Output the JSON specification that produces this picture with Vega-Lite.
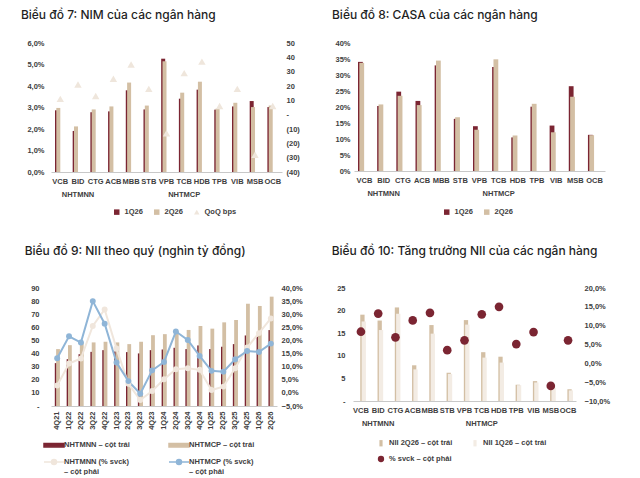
{
  "$schema": "https://vega.github.io/schema/vega-lite/v6.json",
  "background": "white",
  "padding": {"left": 20, "top": 9, "right": 4, "bottom": 0},
  "datasets": {
    "nim": [
      {"bank": "VCB", "quarter": "1Q26", "value": 2.87}, {"bank": "VCB", "quarter": "2Q26", "value": 2.98},
      {"bank": "BID", "quarter": "1Q26", "value": 1.91}, {"bank": "BID", "quarter": "2Q26", "value": 2.12},
      {"bank": "CTG", "quarter": "1Q26", "value": 2.78}, {"bank": "CTG", "quarter": "2Q26", "value": 2.91},
      {"bank": "ACB", "quarter": "1Q26", "value": 2.82}, {"bank": "ACB", "quarter": "2Q26", "value": 3.05},
      {"bank": "MBB", "quarter": "1Q26", "value": 3.80}, {"bank": "MBB", "quarter": "2Q26", "value": 4.16},
      {"bank": "STB", "quarter": "1Q26", "value": 2.91}, {"bank": "STB", "quarter": "2Q26", "value": 3.09},
      {"bank": "VPB", "quarter": "1Q26", "value": 5.27}, {"bank": "VPB", "quarter": "2Q26", "value": 5.15},
      {"bank": "TCB", "quarter": "1Q26", "value": 3.41}, {"bank": "TCB", "quarter": "2Q26", "value": 3.69},
      {"bank": "HDB", "quarter": "1Q26", "value": 3.83}, {"bank": "HDB", "quarter": "2Q26", "value": 4.20},
      {"bank": "TPB", "quarter": "1Q26", "value": 2.90}, {"bank": "TPB", "quarter": "2Q26", "value": 2.95},
      {"bank": "VIB", "quarter": "1Q26", "value": 3.05}, {"bank": "VIB", "quarter": "2Q26", "value": 3.22},
      {"bank": "MSB", "quarter": "1Q26", "value": 3.30}, {"bank": "MSB", "quarter": "2Q26", "value": 3.02},
      {"bank": "OCB", "quarter": "1Q26", "value": 3.02}, {"bank": "OCB", "quarter": "2Q26", "value": 3.09}
    ],
    "nimqoq": [
      {"bank": "VCB", "bps": 11}, {"bank": "BID", "bps": 21}, {"bank": "CTG", "bps": 13},
      {"bank": "ACB", "bps": 25}, {"bank": "MBB", "bps": 35}, {"bank": "STB", "bps": 18},
      {"bank": "VPB", "bps": -13}, {"bank": "TCB", "bps": 29}, {"bank": "HDB", "bps": 37},
      {"bank": "TPB", "bps": 6}, {"bank": "VIB", "bps": 18}, {"bank": "MSB", "bps": -28},
      {"bank": "OCB", "bps": 6}
    ],
    "casa": [
      {"bank": "VCB", "quarter": "1Q26", "value": 34.1}, {"bank": "VCB", "quarter": "2Q26", "value": 33.8},
      {"bank": "BID", "quarter": "1Q26", "value": 20.3}, {"bank": "BID", "quarter": "2Q26", "value": 20.8},
      {"bank": "CTG", "quarter": "1Q26", "value": 24.8}, {"bank": "CTG", "quarter": "2Q26", "value": 23.5},
      {"bank": "ACB", "quarter": "1Q26", "value": 21.9}, {"bank": "ACB", "quarter": "2Q26", "value": 20.6},
      {"bank": "MBB", "quarter": "1Q26", "value": 33.0}, {"bank": "MBB", "quarter": "2Q26", "value": 34.5},
      {"bank": "STB", "quarter": "1Q26", "value": 16.3}, {"bank": "STB", "quarter": "2Q26", "value": 16.8},
      {"bank": "VPB", "quarter": "1Q26", "value": 14.0}, {"bank": "VPB", "quarter": "2Q26", "value": 12.9},
      {"bank": "TCB", "quarter": "1Q26", "value": 32.5}, {"bank": "TCB", "quarter": "2Q26", "value": 34.9},
      {"bank": "HDB", "quarter": "1Q26", "value": 10.5}, {"bank": "HDB", "quarter": "2Q26", "value": 11.1},
      {"bank": "TPB", "quarter": "1Q26", "value": 20.1}, {"bank": "TPB", "quarter": "2Q26", "value": 21.0},
      {"bank": "VIB", "quarter": "1Q26", "value": 14.2}, {"bank": "VIB", "quarter": "2Q26", "value": 12.1},
      {"bank": "MSB", "quarter": "1Q26", "value": 26.5}, {"bank": "MSB", "quarter": "2Q26", "value": 23.2},
      {"bank": "OCB", "quarter": "1Q26", "value": 11.3}, {"bank": "OCB", "quarter": "2Q26", "value": 11.2}
    ],
    "nii": [
      {"quarter": "4Q21", "series": "NHTMNN – cột trái", "value": 32.7}, {"quarter": "4Q21", "series": "NHTMCP – cột trái", "value": 43.4},
      {"quarter": "1Q22", "series": "NHTMNN – cột trái", "value": 35.7}, {"quarter": "1Q22", "series": "NHTMCP – cột trái", "value": 46.4},
      {"quarter": "2Q22", "series": "NHTMNN – cột trái", "value": 39.5}, {"quarter": "2Q22", "series": "NHTMCP – cột trái", "value": 48.5},
      {"quarter": "3Q22", "series": "NHTMNN – cột trái", "value": 41.3}, {"quarter": "3Q22", "series": "NHTMCP – cột trái", "value": 48.5},
      {"quarter": "4Q22", "series": "NHTMNN – cột trái", "value": 42.6}, {"quarter": "4Q22", "series": "NHTMCP – cột trái", "value": 49.0},
      {"quarter": "1Q23", "series": "NHTMNN – cột trái", "value": 41.6}, {"quarter": "1Q23", "series": "NHTMCP – cột trái", "value": 48.5},
      {"quarter": "2Q23", "series": "NHTMNN – cột trái", "value": 41.1}, {"quarter": "2Q23", "series": "NHTMCP – cột trái", "value": 47.2},
      {"quarter": "3Q23", "series": "NHTMNN – cột trái", "value": 40.1}, {"quarter": "3Q23", "series": "NHTMCP – cột trái", "value": 49.0},
      {"quarter": "4Q23", "series": "NHTMNN – cột trái", "value": 42.6}, {"quarter": "4Q23", "series": "NHTMCP – cột trái", "value": 54.0},
      {"quarter": "1Q24", "series": "NHTMNN – cột trái", "value": 43.1}, {"quarter": "1Q24", "series": "NHTMCP – cột trái", "value": 54.8},
      {"quarter": "2Q24", "series": "NHTMNN – cột trái", "value": 44.4}, {"quarter": "2Q24", "series": "NHTMCP – cột trái", "value": 57.0},
      {"quarter": "3Q24", "series": "NHTMNN – cột trái", "value": 43.4}, {"quarter": "3Q24", "series": "NHTMCP – cột trái", "value": 58.0},
      {"quarter": "4Q24", "series": "NHTMNN – cột trái", "value": 46.2}, {"quarter": "4Q24", "series": "NHTMCP – cột trái", "value": 61.0},
      {"quarter": "1Q25", "series": "NHTMNN – cột trái", "value": 43.4}, {"quarter": "1Q25", "series": "NHTMCP – cột trái", "value": 59.0},
      {"quarter": "2Q25", "series": "NHTMNN – cột trái", "value": 45.2}, {"quarter": "2Q25", "series": "NHTMCP – cột trái", "value": 63.8},
      {"quarter": "3Q25", "series": "NHTMNN – cột trái", "value": 47.2}, {"quarter": "3Q25", "series": "NHTMCP – cột trái", "value": 65.6},
      {"quarter": "4Q25", "series": "NHTMNN – cột trái", "value": 53.8}, {"quarter": "4Q25", "series": "NHTMCP – cột trái", "value": 78.0},
      {"quarter": "1Q26", "series": "NHTMNN – cột trái", "value": 52.8}, {"quarter": "1Q26", "series": "NHTMCP – cột trái", "value": 76.3},
      {"quarter": "2Q26", "series": "NHTMNN – cột trái", "value": 57.9}, {"quarter": "2Q26", "series": "NHTMCP – cột trái", "value": 83.4}
    ],
    "yoy": [
      {"quarter": "4Q21", "series": "NHTMNN (% svck) – cột phải", "value": 2.8}, {"quarter": "4Q21", "series": "NHTMCP (% svck) – cột phải", "value": 13.2},
      {"quarter": "1Q22", "series": "NHTMNN (% svck) – cột phải", "value": 11.2}, {"quarter": "1Q22", "series": "NHTMCP (% svck) – cột phải", "value": 21.6},
      {"quarter": "2Q22", "series": "NHTMNN (% svck) – cột phải", "value": 13.1}, {"quarter": "2Q22", "series": "NHTMCP (% svck) – cột phải", "value": 19.2},
      {"quarter": "3Q22", "series": "NHTMNN (% svck) – cột phải", "value": 25.5}, {"quarter": "3Q22", "series": "NHTMCP (% svck) – cột phải", "value": 35.0},
      {"quarter": "4Q22", "series": "NHTMNN (% svck) – cột phải", "value": 31.8}, {"quarter": "4Q22", "series": "NHTMCP (% svck) – cột phải", "value": 26.4},
      {"quarter": "1Q23", "series": "NHTMNN (% svck) – cột phải", "value": 16.9}, {"quarter": "1Q23", "series": "NHTMCP (% svck) – cột phải", "value": 11.6},
      {"quarter": "2Q23", "series": "NHTMNN (% svck) – cột phải", "value": 3.5}, {"quarter": "2Q23", "series": "NHTMCP (% svck) – cột phải", "value": 4.5},
      {"quarter": "3Q23", "series": "NHTMNN (% svck) – cột phải", "value": -2.7}, {"quarter": "3Q23", "series": "NHTMCP (% svck) – cột phải", "value": -0.3},
      {"quarter": "4Q23", "series": "NHTMNN (% svck) – cột phải", "value": 0.7}, {"quarter": "4Q23", "series": "NHTMCP (% svck) – cột phải", "value": 8.6},
      {"quarter": "1Q24", "series": "NHTMNN (% svck) – cột phải", "value": 5.2}, {"quarter": "1Q24", "series": "NHTMCP (% svck) – cột phải", "value": 11.8},
      {"quarter": "2Q24", "series": "NHTMNN (% svck) – cột phải", "value": 9.0}, {"quarter": "2Q24", "series": "NHTMCP (% svck) – cột phải", "value": 23.4},
      {"quarter": "3Q24", "series": "NHTMNN (% svck) – cột phải", "value": 9.4}, {"quarter": "3Q24", "series": "NHTMCP (% svck) – cột phải", "value": 20.2},
      {"quarter": "4Q24", "series": "NHTMNN (% svck) – cột phải", "value": 8.8}, {"quarter": "4Q24", "series": "NHTMCP (% svck) – cột phải", "value": 14.1},
      {"quarter": "1Q25", "series": "NHTMNN (% svck) – cột phải", "value": 1.1}, {"quarter": "1Q25", "series": "NHTMCP (% svck) – cột phải", "value": 8.4},
      {"quarter": "2Q25", "series": "NHTMNN (% svck) – cột phải", "value": 2.4}, {"quarter": "2Q25", "series": "NHTMCP (% svck) – cột phải", "value": 8.1},
      {"quarter": "3Q25", "series": "NHTMNN (% svck) – cột phải", "value": 9.4}, {"quarter": "3Q25", "series": "NHTMCP (% svck) – cột phải", "value": 12.8},
      {"quarter": "4Q25", "series": "NHTMNN (% svck) – cột phải", "value": 17.3}, {"quarter": "4Q25", "series": "NHTMCP (% svck) – cột phải", "value": 16.0},
      {"quarter": "1Q26", "series": "NHTMNN (% svck) – cột phải", "value": 22.8}, {"quarter": "1Q26", "series": "NHTMCP (% svck) – cột phải", "value": 15.6},
      {"quarter": "2Q26", "series": "NHTMNN (% svck) – cột phải", "value": 28.4}, {"quarter": "2Q26", "series": "NHTMCP (% svck) – cột phải", "value": 18.8}
    ],
    "niibank": [
      {"bank": "VCB", "series": "NII 2Q26 – cột trái", "value": 19.1}, {"bank": "VCB", "series": "NII 1Q26 – cột trái", "value": 17.6},
      {"bank": "BID", "series": "NII 2Q26 – cột trái", "value": 17.8}, {"bank": "BID", "series": "NII 1Q26 – cột trái", "value": 15.7},
      {"bank": "CTG", "series": "NII 2Q26 – cột trái", "value": 20.7}, {"bank": "CTG", "series": "NII 1Q26 – cột trái", "value": 19.3},
      {"bank": "ACB", "series": "NII 2Q26 – cột trái", "value": 7.9}, {"bank": "ACB", "series": "NII 1Q26 – cột trái", "value": 7.0},
      {"bank": "MBB", "series": "NII 2Q26 – cột trái", "value": 16.8}, {"bank": "MBB", "series": "NII 1Q26 – cột trái", "value": 14.9},
      {"bank": "STB", "series": "NII 2Q26 – cột trái", "value": 6.25}, {"bank": "STB", "series": "NII 1Q26 – cột trái", "value": 6.0},
      {"bank": "VPB", "series": "NII 2Q26 – cột trái", "value": 17.9}, {"bank": "VPB", "series": "NII 1Q26 – cột trái", "value": 16.9},
      {"bank": "TCB", "series": "NII 2Q26 – cột trái", "value": 10.8}, {"bank": "TCB", "series": "NII 1Q26 – cột trái", "value": 9.6},
      {"bank": "HDB", "series": "NII 2Q26 – cột trái", "value": 9.8}, {"bank": "HDB", "series": "NII 1Q26 – cột trái", "value": 8.5},
      {"bank": "TPB", "series": "NII 2Q26 – cột trái", "value": 3.6}, {"bank": "TPB", "series": "NII 1Q26 – cột trái", "value": 3.5},
      {"bank": "VIB", "series": "NII 2Q26 – cột trái", "value": 4.4}, {"bank": "VIB", "series": "NII 1Q26 – cột trái", "value": 4.1},
      {"bank": "MSB", "series": "NII 2Q26 – cột trái", "value": 3.1}, {"bank": "MSB", "series": "NII 1Q26 – cột trái", "value": 2.9},
      {"bank": "OCB", "series": "NII 2Q26 – cột trái", "value": 2.6}, {"bank": "OCB", "series": "NII 1Q26 – cột trái", "value": 2.35}
    ],
    "niiyoy": [
      {"bank": "VCB", "series": "% svck – cột phải", "value": 8.4}, {"bank": "BID", "series": "% svck – cột phải", "value": 13.2},
      {"bank": "CTG", "series": "% svck – cột phải", "value": 6.9}, {"bank": "ACB", "series": "% svck – cột phải", "value": 11.4},
      {"bank": "MBB", "series": "% svck – cột phải", "value": 13.4}, {"bank": "STB", "series": "% svck – cột phải", "value": 3.5},
      {"bank": "VPB", "series": "% svck – cột phải", "value": 6.1}, {"bank": "TCB", "series": "% svck – cột phải", "value": 13.0},
      {"bank": "HDB", "series": "% svck – cột phải", "value": 15.0}, {"bank": "TPB", "series": "% svck – cột phải", "value": 5.1},
      {"bank": "VIB", "series": "% svck – cột phải", "value": 8.3}, {"bank": "MSB", "series": "% svck – cột phải", "value": -6.0},
      {"bank": "OCB", "series": "% svck – cột phải", "value": 6.1}
    ]
  },
  "vconcat": [
    {
      "hconcat": [
        {
          "title": {"text": "Biểu đồ 7: NIM của các ngân hàng", "offset": 17, "dx": -6},
          "width": 231,
          "height": 129,
          "layer": [
            {
              "data": {"name": "nim"},
              "mark": {"type": "bar", "width": 4},
              "encoding": {
                "x": {"field": "bank", "type": "nominal", "scale": {"domain": ["VCB","BID","CTG","ACB","MBB","STB","VPB","TCB","HDB","TPB","VIB","MSB","OCB"], "paddingInner": 0.55, "paddingOuter": 0.3},
                  "axis": {"title": null, "labelAngle": 0, "labelOverlap": false, "labelLineHeight": 13,
                    "labelExpr": "datum.value == 'BID' ? ['BID', 'NHTMNN'] : datum.value == 'TCB' ? ['TCB', '        NHTMCP'] : datum.value"}},
                "xOffset": {"field": "quarter", "type": "nominal", "scale": {"domain": ["1Q26", "2Q26"], "paddingInner": 0, "paddingOuter": 0}},
                "y": {"field": "value", "type": "quantitative", "scale": {"domain": [0, 6], "nice": false},
                  "axis": {"title": null, "labelPadding": 7, "values": [0,1,2,3,4,5,6], "labelExpr": "replace(format(datum.value, '.1f'), '.', ',') + '%'"}},
                "color": {"field": "quarter", "type": "nominal",
                  "scale": {"domain": ["1Q26", "2Q26", "QoQ bps"], "range": ["#7b2532", "#d3bfa4", "#efe6dc"]},
                  "legend": {"title": null, "orient": "none", "legendX": 62, "legendY": 165, "direction": "horizontal", "symbolSize": 30,
                    "encode": {"symbols": {"update": {"shape": {"signal": "datum.value == 'QoQ bps' ? 'triangle-up' : 'square'"}}}}}}
              }
            },
            {
              "data": {"name": "nimqoq"},
              "mark": {"type": "point", "shape": "triangle-up", "filled": true, "size": 55, "opacity": 1},
              "encoding": {
                "x": {"field": "bank", "type": "nominal"},
                "y": {"field": "bps", "type": "quantitative", "scale": {"domain": [-40, 50], "nice": false},
                  "axis": {"title": null, "orient": "right", "values": [-40,-30,-20,-10,0,10,20,30,40,50],
                    "labelExpr": "datum.value == 0 ? '-' : datum.value < 0 ? '(' + abs(datum.value) + ')' : datum.label"}},
                "color": {"datum": "QoQ bps"}
              }
            }
          ],
          "resolve": {"scale": {"y": "independent"}}
        },
        {
          "title": {"text": "Biểu đồ 8: CASA của các ngân hàng", "offset": 17, "dx": -3},
          "width": 251,
          "height": 128,
          "data": {"name": "casa"},
          "mark": {"type": "bar", "width": 4.8},
          "encoding": {
            "x": {"field": "bank", "type": "nominal", "scale": {"domain": ["VCB","BID","CTG","ACB","MBB","STB","VPB","TCB","HDB","TPB","VIB","MSB","OCB"], "paddingInner": 0.5, "paddingOuter": 0.3},
              "axis": {"title": null, "labelAngle": 0, "labelOverlap": false, "labelLineHeight": 13,
                "labelExpr": "datum.value == 'BID' ? ['BID', 'NHTMNN'] : datum.value == 'TCB' ? ['TCB', '        NHTMCP'] : datum.value"}},
            "xOffset": {"field": "quarter", "type": "nominal", "scale": {"domain": ["1Q26", "2Q26"], "paddingInner": 0, "paddingOuter": 0}},
            "y": {"field": "value", "type": "quantitative", "scale": {"domain": [0, 40], "nice": false},
              "axis": {"title": null, "values": [0,5,10,15,20,25,30,35,40], "labelExpr": "datum.value + '%'"}},
            "color": {"field": "quarter", "type": "nominal",
              "scale": {"domain": ["1Q26", "2Q26"], "range": ["#7b2532", "#d3bfa4"]},
              "legend": {"title": null, "orient": "none", "legendX": 89, "legendY": 165, "direction": "horizontal", "symbolType": "square", "symbolSize": 30}}
          }
        }
      ],
      "spacing": 31,
      "resolve": {"scale": {"color": "independent"}, "legend": {"color": "independent"}}
    },
    {
      "hconcat": [
        {
          "title": {"text": "Biểu đồ 9: NII theo quý (nghìn tỷ đồng)", "offset": 26, "dx": -6},
          "width": 226,
          "height": 118,
          "layer": [
            {
              "data": {"name": "nii"},
              "mark": {"type": "bar", "width": 3.8},
              "encoding": {
                "x": {"field": "quarter", "type": "nominal",
                  "scale": {"domain": ["4Q21","1Q22","2Q22","3Q22","4Q22","1Q23","2Q23","3Q23","4Q23","1Q24","2Q24","3Q24","4Q24","1Q25","2Q25","3Q25","4Q25","1Q26","2Q26"], "paddingInner": 0.36, "paddingOuter": 0.2},
                  "axis": {"title": null, "labelAngle": 270, "labelOverlap": false}},
                "xOffset": {"field": "series", "type": "nominal", "scale": {"domain": ["NHTMNN – cột trái", "NHTMCP – cột trái"], "paddingInner": 0, "paddingOuter": 0}},
                "y": {"field": "value", "type": "quantitative", "scale": {"domain": [0, 90], "nice": false},
                  "axis": {"title": null, "labelPadding": 12, "values": [0,10,20,30,40,50,60,70,80,90], "labelExpr": "datum.value == 0 ? '-' : datum.label"}},
                "color": {"field": "series", "type": "nominal",
                  "scale": {"domain": ["NHTMNN – cột trái", "NHTMCP – cột trái", "NHTMNN (% svck) – cột phải", "NHTMCP (% svck) – cột phải"],
                    "range": ["#7b2532", "#d3bfa4", "#f0e6dc", "#8fb5d7"]},
                  "legend": {"title": null, "orient": "none", "legendX": -3, "legendY": 151, "direction": "horizontal", "columns": 2, "columnPadding": 36, "rowPadding": 6, "symbolSize": 100,
                    "symbolStrokeWidth": 1.5, "labelLineHeight": 11,
                    "labelExpr": "indexof(datum.label, 'svck') > 0 ? [slice(datum.label, 0, indexof(datum.label, ' –')), slice(datum.label, indexof(datum.label, '–'))] : datum.label",
                    "encode": {"symbols": {"update": {"shape": {"signal": "indexof(datum.value, 'svck') > 0 ? 'M-2,0H2M0.5,0A0.5,0.5,0,1,1,-0.5,0A0.5,0.5,0,1,1,0.5,0Z' : 'M-2,-0.35H2V0.35H-2Z'"}}}}}}
              }
            },
            {
              "data": {"name": "yoy"},
              "mark": {"type": "line", "strokeWidth": 2, "point": {"filled": true, "size": 35}},
              "encoding": {
                "x": {"field": "quarter", "type": "nominal"},
                "y": {"field": "value", "type": "quantitative", "scale": {"domain": [-5, 40], "nice": false},
                  "axis": {"title": null, "orient": "right", "values": [-5,0,5,10,15,20,25,30,35,40],
                    "labelExpr": "replace(format(datum.value, '.1f'), '.', ',') + '%'"}},
                "color": {"field": "series", "type": "nominal"}
              }
            }
          ],
          "resolve": {"scale": {"y": "independent"}}
        },
        {
          "title": {"text": "Biểu đồ 10: Tăng trưởng NII của các ngân hàng", "offset": 26, "dx": -5},
          "width": 223,
          "height": 113,
          "layer": [
            {
              "data": {"name": "niibank"},
              "mark": {"type": "bar", "width": 4.3},
              "encoding": {
                "x": {"field": "bank", "type": "nominal", "scale": {"domain": ["VCB","BID","CTG","ACB","MBB","STB","VPB","TCB","HDB","TPB","VIB","MSB","OCB"], "paddingInner": 0.48, "paddingOuter": 0.2},
                  "axis": {"title": null, "labelAngle": 0, "labelOverlap": false, "labelLineHeight": 13,
                    "labelExpr": "datum.value == 'BID' ? ['BID', 'NHTMNN'] : datum.value == 'TCB' ? ['TCB', '        NHTMCP'] : datum.value"}},
                "xOffset": {"field": "series", "type": "nominal", "scale": {"domain": ["NII 2Q26 – cột trái", "NII 1Q26 – cột trái"], "paddingInner": 0, "paddingOuter": 0}},
                "y": {"field": "value", "type": "quantitative", "scale": {"domain": [0, 25], "nice": false},
                  "axis": {"title": null, "labelPadding": 8, "values": [0,5,10,15,20,25], "labelExpr": "datum.value == 0 ? '-' : datum.label"}},
                "color": {"field": "series", "type": "nominal",
                  "scale": {"domain": ["NII 2Q26 – cột trái", "NII 1Q26 – cột trái", "% svck – cột phải"], "range": ["#d3bfa4", "#f3ece4", "#7b2532"]},
                  "legend": {"title": null, "orient": "none", "legendX": 24, "legendY": 151, "direction": "horizontal", "columns": 2, "columnPadding": 18, "rowPadding": 8, "symbolSize": 40,
                    "encode": {"symbols": {"update": {"shape": {"signal": "indexof(datum.value, 'svck') > 0 ? 'circle' : 'M-0.5,-1H0.5V1H-0.5Z'"}}}}}}
              }
            },
            {
              "data": {"name": "niiyoy"},
              "mark": {"type": "circle", "size": 75, "opacity": 1},
              "encoding": {
                "x": {"field": "bank", "type": "nominal"},
                "y": {"field": "value", "type": "quantitative", "scale": {"domain": [-10, 20], "nice": false},
                  "axis": {"title": null, "orient": "right", "labelPadding": 8, "values": [-10,-5,0,5,10,15,20],
                    "labelExpr": "replace(format(datum.value, '.1f'), '.', ',') + '%'"}},
                "color": {"field": "series", "type": "nominal"}
              }
            }
          ],
          "resolve": {"scale": {"y": "independent"}}
        }
      ],
      "spacing": 28,
      "resolve": {"scale": {"color": "independent"}, "legend": {"color": "independent"}}
    }
  ],
  "spacing": 29,
  "resolve": {"scale": {"color": "independent"}, "legend": {"color": "independent"}},
  "config": {
    "view": {"stroke": null},
    "font": "Liberation Sans",
    "axis": {"labelFont": "Liberation Sans", "labelFontSize": 7.5, "labelFontWeight": "bold", "labelColor": "#404040", "grid": false, "ticks": false, "domain": false, "labelPadding": 4},
    "axisX": {"domain": true, "domainColor": "#c8c8c8", "labelPadding": 5},
    "legend": {"labelFont": "Liberation Sans", "labelFontSize": 7.5, "labelFontWeight": "bold", "labelColor": "#404040"},
    "title": {"font": "Inter", "fontSize": 12, "fontWeight": 500, "color": "#1f1f1f", "anchor": "start", "frame": "bounds"}
  }
}
